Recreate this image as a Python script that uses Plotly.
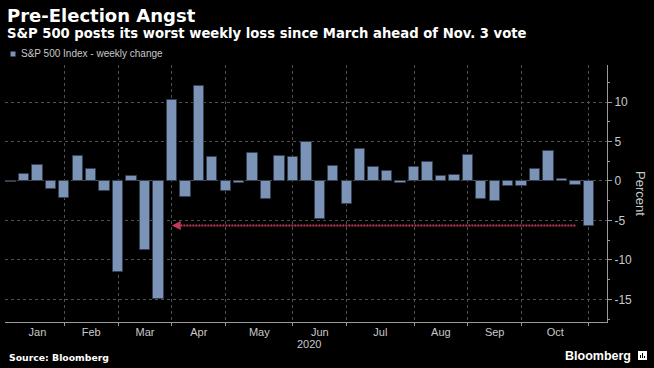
import plotly.graph_objects as go

# ---- data ----
week_ending = [
    "2020-01-03", "2020-01-10", "2020-01-17", "2020-01-24", "2020-01-31",
    "2020-02-07", "2020-02-14", "2020-02-21", "2020-02-28",
    "2020-03-06", "2020-03-13", "2020-03-20", "2020-03-27",
    "2020-04-03", "2020-04-10", "2020-04-17", "2020-04-24",
    "2020-05-01", "2020-05-08", "2020-05-15", "2020-05-22", "2020-05-29",
    "2020-06-05", "2020-06-12", "2020-06-19", "2020-06-26",
    "2020-07-03", "2020-07-10", "2020-07-17", "2020-07-24", "2020-07-31",
    "2020-08-07", "2020-08-14", "2020-08-21", "2020-08-28",
    "2020-09-04", "2020-09-11", "2020-09-18", "2020-09-25",
    "2020-10-02", "2020-10-09", "2020-10-16", "2020-10-23", "2020-10-30",
]
weekly_change = [
    -0.16, 0.94, 1.97, -1.03, -2.12,
    3.17, 1.58, -1.25, -11.49,
    0.61, -8.79, -14.98, 10.26,
    -2.08, 12.10, 3.04, -1.32,
    -0.21, 3.50, -2.26, 3.20, 3.01,
    4.91, -4.78, 1.86, -2.86,
    4.02, 1.76, 1.25, -0.28, 1.73,
    2.45, 0.64, 0.72, 3.26,
    -2.31, -2.51, -0.64, -0.63,
    1.52, 3.84, 0.19, -0.53, -5.64,
]
month_labels = ["Jan", "Feb", "Mar", "Apr", "May", "Jun", "Jul", "Aug", "Sep", "Oct"]
month_numbers = ["01", "02", "03", "04", "05", "06", "07", "08", "09", "10"]
year_label = "2020"
y_ticks = [-15, -10, -5, 0, 5, 10]
series_name = "S&P 500 Index - weekly change"

# ---- derived positions (from the data) ----
idx = list(range(len(week_ending)))
boundaries = []
for m in month_numbers:
    boundaries.append(max(i for i, d in enumerate(week_ending) if d[5:7] == m))
starts = [0] + boundaries[:-1]
label_pos = [(a + b) / 2 for a, b in zip(starts, boundaries)]

last_val = weekly_change[-1]
prev_worse = max(i for i, v in enumerate(weekly_change[:-1]) if v < last_val)
arrow_tip = prev_worse + 1
arrow_start = len(weekly_change) - 2

BAR = "#7b93b6"
GRID = "#505050"
AXIS = "#9a9a9a"
TXT = "#c8c8c8"

fig = go.Figure()
fig.add_trace(go.Bar(
    x=idx, y=weekly_change, width=0.77, name=series_name,
    marker=dict(color=BAR, line=dict(color="#34404f", width=1)),
    showlegend=False,
))

fig.add_shape(type="line", xref="x", yref="y",
              x0=arrow_start, x1=arrow_tip + 0.35, y0=last_val, y1=last_val,
              line=dict(color="#c23a5a", width=2, dash="2px,1px"))
fig.add_annotation(x=arrow_tip, y=last_val, ax=arrow_tip + 0.6, ay=last_val,
                   xref="x", yref="y", axref="x", ayref="y", text="",
                   showarrow=True, arrowhead=2, arrowsize=1.1, arrowwidth=1.6,
                   arrowcolor="#c23a5a")

W, H = 654, 368
L, R, T, B = 5, 47, 65, 46
pw, ph = W - L - R, H - T - B


def px(x):
    return (x - L) / pw


def py(y):
    return 1 - (y - T) / ph


fig.add_annotation(text="<b>Pre-Election Angst</b>", x=px(5), y=py(15),
                   xref="paper", yref="paper", xanchor="left", yanchor="middle",
                   showarrow=False,
                   font=dict(family="DejaVu Sans", size=18, color="white"))
fig.add_annotation(text="<b>S&P 500 posts its worst weekly loss since March ahead of Nov. 3 vote</b>",
                   x=px(5), y=py(33), xref="paper", yref="paper",
                   xanchor="left", yanchor="middle", showarrow=False,
                   font=dict(family="DejaVu Sans", size=13.2, color="white"))
fig.add_shape(type="rect", xref="paper", yref="paper",
              x0=px(10.5), x1=px(15.5), y0=py(56.5), y1=py(51.5),
              fillcolor=BAR, line=dict(width=0))
fig.add_annotation(text=series_name, x=px(18.5), y=py(53.5), xref="paper", yref="paper",
                   xanchor="left", yanchor="middle", showarrow=False,
                   font=dict(family="Liberation Sans", size=10, color=TXT))
fig.add_annotation(text=year_label, x=px(308.5), y=py(344), xref="paper", yref="paper",
                   xanchor="center", yanchor="middle", showarrow=False,
                   font=dict(family="Liberation Sans", size=11, color=TXT))
fig.add_annotation(text="Percent", x=px(641), y=py(193), xref="paper", yref="paper",
                   xanchor="center", yanchor="middle", showarrow=False, textangle=90,
                   font=dict(family="Liberation Sans", size=13, color=TXT))
fig.add_annotation(text="<b>Source: Bloomberg</b>", x=px(7), y=py(357), xref="paper", yref="paper",
                   xanchor="left", yanchor="middle", showarrow=False,
                   font=dict(family="DejaVu Sans", size=9.3, color="white"))
fig.add_annotation(text="<b>Bloomberg</b>", x=px(633), y=py(356), xref="paper", yref="paper",
                   xanchor="right", yanchor="middle", showarrow=False,
                   font=dict(family="Liberation Sans", size=12.5, color="white"))
fig.add_shape(type="rect", xref="paper", yref="paper",
              x0=px(638), x1=px(647), y0=py(360), y1=py(351),
              fillcolor="white", line=dict(width=0))
for xx, top in [(640.5, 355), (642.5, 353), (644.5, 356)]:
    fig.add_shape(type="line", xref="paper", yref="paper",
                  x0=px(xx), x1=px(xx), y0=py(358), y1=py(top),
                  line=dict(color="black", width=1))

fig.update_layout(
    width=W, height=H,
    margin=dict(l=L, r=R, t=T, b=B),
    paper_bgcolor="black", plot_bgcolor="black",
    showlegend=False,
    bargap=0,
    xaxis=dict(
        range=[-0.41, 44.35],
        tickmode="array", tickvals=label_pos, ticktext=month_labels,
        ticks="", showgrid=False, zeroline=False,
        showline=True, linecolor=AXIS, linewidth=1,
        tickfont=dict(family="Liberation Sans", size=11, color=TXT),
        minor=dict(tickmode="array", tickvals=boundaries, ticks="outside",
                   ticklen=3, tickcolor=AXIS, showgrid=True,
                   gridcolor=GRID, griddash="dot", gridwidth=1),
    ),
    yaxis=dict(
        side="right", range=[-17.87, 14.70],
        tickmode="array", tickvals=y_ticks, ticktext=[str(v) for v in y_ticks],
        ticks="outside", ticklen=4, tickcolor=AXIS,
        showgrid=True, gridcolor=GRID, griddash="dot", gridwidth=1,
        zeroline=False, showline=True, linecolor=AXIS, linewidth=1,
        tickfont=dict(family="Liberation Sans", size=12, color=TXT),
        minor=dict(dtick=2.5, tick0=0, ticks="outside", ticklen=2,
                   tickcolor=AXIS, showgrid=False),
    ),
)

fig.write_html("out.html", config={"displayModeBar": False},
               post_script="document.body.style.margin='0';document.body.style.background='black';")
